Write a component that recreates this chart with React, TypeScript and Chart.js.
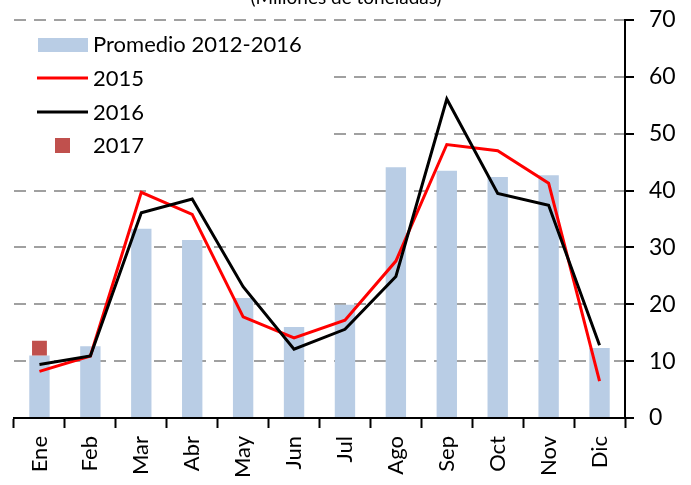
import React, { useEffect, useRef } from "react";
import { Chart, registerables } from "chart.js";

Chart.register(...registerables);

const categories = ["Ene", "Feb", "Mar", "Abr", "May", "Jun", "Jul", "Ago", "Sep", "Oct", "Nov", "Dic"];
const promedio = [11.0, 12.6, 33.3, 31.3, 21.1, 16.0, 19.9, 44.1, 43.5, 42.4, 42.7, 12.3];
const serie2015 = [8.2, 10.9, 39.7, 35.8, 17.8, 14.1, 17.2, 27.6, 48.1, 47.0, 41.3, 6.5];
const serie2016 = [9.4, 10.9, 36.1, 38.5, 23.1, 12.1, 15.6, 24.9, 56.1, 39.5, 37.4, 12.8];
const serie2017 = [12.3, null, null, null, null, null, null, null, null, null, null, null];
const yTicks = [0, 10, 20, 30, 40, 50, 60, 70];
const titleText = "(Millones de toneladas)";
const legendLabels = ["Promedio 2012-2016", "2015", "2016", "2017"];

const FONT = "Lato, 'Noto Sans', sans-serif";
const BAR = "#B9CDE5";
const RED = "#FF0000";
const BLACK = "#000000";
const SQ = "#C0504D";

const legendPlugin = {
  id: "customLegend",
  afterDatasetsDraw(chart: any) {
    const ctx = chart.ctx;
    ctx.save();
    ctx.fillStyle = "#ffffff";
    ctx.fillRect(12, 28, 320, 134);
    ctx.font = `22px ${FONT}`;
    ctx.textBaseline = "middle";
    const ys = [45, 79, 113, 146];
    ctx.fillStyle = BAR;
    ctx.fillRect(38, 38, 50, 14);
    ctx.lineWidth = 3;
    ctx.strokeStyle = RED;
    ctx.beginPath();
    ctx.moveTo(37, ys[1] - 1);
    ctx.lineTo(88, ys[1] - 1);
    ctx.stroke();
    ctx.strokeStyle = BLACK;
    ctx.beginPath();
    ctx.moveTo(37, ys[2] - 1);
    ctx.lineTo(88, ys[2] - 1);
    ctx.stroke();
    ctx.fillStyle = SQ;
    ctx.fillRect(55, 138, 15, 15);
    ctx.fillStyle = "#000";
    legendLabels.forEach((t, i) => ctx.fillText(t, 93, ys[i]));
    // title (cut off at the top of the picture)
    ctx.font = `19px ${FONT}`;
    ctx.textAlign = "center";
    ctx.textBaseline = "alphabetic";
    ctx.fillText(titleText, 346, 4);
    ctx.restore();
  },
};

export default function App() {
  const ref = useRef<HTMLCanvasElement | null>(null);
  useEffect(() => {
    if (!ref.current) return;
    const chart = new Chart(ref.current, {
      type: "bar",
      data: {
        labels: categories,
        datasets: [
          {
            type: "line",
            label: legendLabels[3],
            data: serie2017 as any,
            showLine: false,
            pointStyle: "rect",
            pointRadius: 10.5,
            pointBackgroundColor: SQ,
            pointBorderWidth: 0,
            order: 1,
          },
          {
            type: "line",
            label: legendLabels[2],
            data: serie2016,
            borderColor: BLACK,
            borderWidth: 3,
            pointRadius: 0,
            tension: 0,
            order: 2,
          },
          {
            type: "line",
            label: legendLabels[1],
            data: serie2015,
            borderColor: RED,
            borderWidth: 3,
            pointRadius: 0,
            tension: 0,
            order: 3,
          },
          {
            type: "bar",
            label: legendLabels[0],
            data: promedio,
            backgroundColor: BAR,
            barPercentage: 0.4,
            categoryPercentage: 1,
            order: 4,
          },
        ],
      } as any,
      options: {
        animation: false,
        responsive: false,
        layout: { padding: { left: 14, top: 20, right: 0, bottom: 0 } },
        plugins: { legend: { display: false }, tooltip: { enabled: false } },
        scales: {
          x: {
            offset: true,
            grid: {
              offset: true,
              drawOnChartArea: false,
              drawTicks: true,
              tickLength: 10,
              tickColor: "#000",
              tickWidth: 2,
            },
            border: { display: true, color: "#000", width: 2 },
            ticks: {
              minRotation: 90,
              maxRotation: 90,
              padding: 8,
              color: "#000",
              font: { family: FONT, size: 22 },
            },
            afterFit: (s: any) => {
              s.height = 67;
              s.paddingLeft = 0;
              s.paddingRight = 0;
            },
          },
          y: {
            position: "right",
            min: 0,
            max: 70,
            afterBuildTicks: (s: any) => {
              s.ticks = yTicks.map((v) => ({ value: v }));
            },
            grid: {
              color: (c: any) => (c.tick && c.tick.value === 0 ? "rgba(0,0,0,0)" : "#A0A0A0"),
              lineWidth: 2,
              tickColor: "#000",
              tickWidth: 2,
              tickLength: 9,
              tickBorderDash: [],
            },
            border: { display: true, color: "#000", width: 2, dash: [12, 8] },
            ticks: {
              padding: 15,
              color: "#000",
              font: { family: FONT, size: 23 },
            },
            afterFit: (s: any) => {
              s.width = 66;
              s.paddingTop = 0;
              s.paddingBottom = 0;
            },
          },
        },
      } as any,
      plugins: [legendPlugin],
    });
    return () => chart.destroy();
  }, []);
  return (
    <div style={{ position: "absolute", left: 0, top: 0, width: 691, height: 485, background: "#fff" }}>
      <canvas ref={ref} width={691} height={485} />
    </div>
  );
}
